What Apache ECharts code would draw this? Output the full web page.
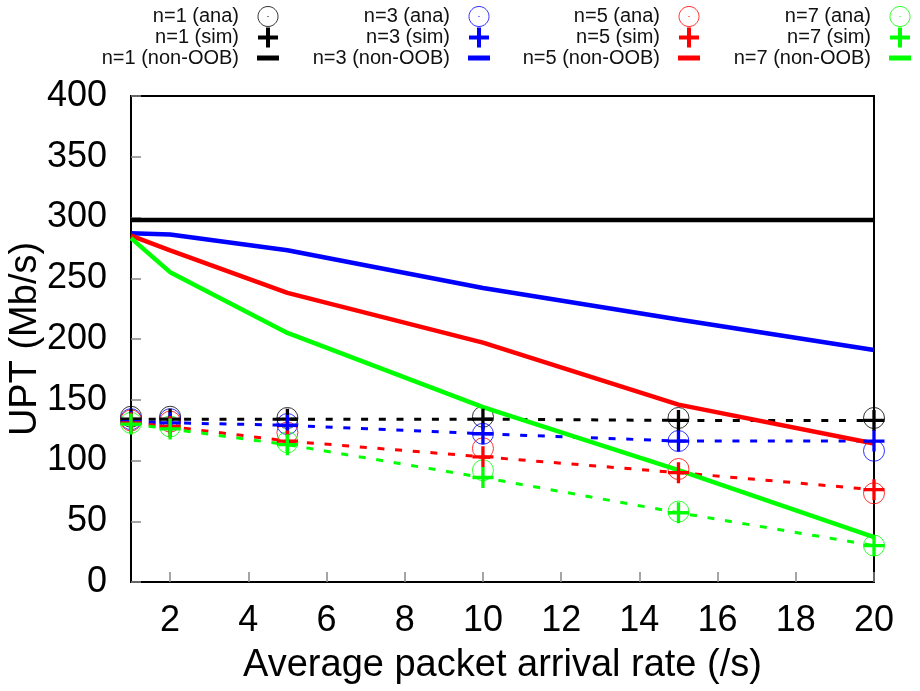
<!DOCTYPE html>
<html>
<head>
<meta charset="utf-8">
<title>UPT vs average packet arrival rate</title>
<script src="https://cdn.jsdelivr.net/npm/echarts@6/dist/echarts.min.js"></script>
<style>
  html, body { margin: 0; padding: 0; background: #fff; }
  #chart { width: 920px; height: 691px; }
</style>
</head>
<body>
<div id="chart"></div>
<script>
// Average packet arrival rate (/s)
const arrivalRates = [1, 2, 5, 10, 15, 20];
const xTickValues = [2, 4, 6, 8, 10, 12, 14, 16, 18, 20];

// UPT (Mb/s): analytical results
const anaN1 = [136, 136, 135, 136, 135, 135];
const anaN3 = [134, 134, 130, 122, 116, 108];
const anaN5 = [133, 132, 123, 110, 93, 73];
const anaN7 = [131, 128, 115, 92, 58, 30];

// UPT (Mb/s): simulation results
const simN1 = [134, 134, 134, 134, 133, 133];
const simN3 = [132, 131, 129, 122, 116, 116];
const simN5 = [131, 128, 116, 103, 90, 76];
const simN7 = [130, 126, 113, 86, 57, 30];

// UPT (Mb/s): without out-of-band signalling
const nonOobN1 = [298, 298, 298, 298, 298, 298];
const nonOobN3 = [287, 286, 273, 242, 216, 191];
const nonOobN5 = [285, 273, 238, 197, 146, 114];
const nonOobN7 = [283, 255, 205, 144, 92, 37];

const groups = [
  { n: 1, color: '#000000', ana: anaN1, sim: simN1, nonOob: nonOobN1 },
  { n: 3, color: '#0000ff', ana: anaN3, sim: simN3, nonOob: nonOobN3 },
  { n: 5, color: '#ff0000', ana: anaN5, sim: simN5, nonOob: nonOobN5 },
  { n: 7, color: '#00ff00', ana: anaN7, sim: simN7, nonOob: nonOobN7 }
];

const FONT = '"Liberation Sans", Arial, Helvetica, sans-serif';

// Plus marker (centered, arm thickness ~3.3 of 21)
const PLUS = 'path://M-1.65,-10.5L1.65,-10.5L1.65,-1.65L10.5,-1.65L10.5,1.65L1.65,1.65L1.65,10.5L-1.65,10.5L-1.65,1.65L-10.5,1.65L-10.5,-1.65L-1.65,-1.65Z';
// Legend icons
const ICON_PLUS = 'path://M8.8,0L13.2,0L13.2,8.8L22,8.8L22,13.2L13.2,13.2L13.2,22L8.8,22L8.8,13.2L0,13.2L0,8.8L8.8,8.8Z';
const ICON_RING = 'path://M22,11C22,17.08 17.08,22 11,22C4.92,22 0,17.08 0,11C0,4.92 4.92,0 11,0C17.08,0 22,4.92 22,11Z' +
  'M11.4,11C11.4,11.22 11.22,11.4 11,11.4C10.78,11.4 10.6,11.22 10.6,11C10.6,10.78 10.78,10.6 11,10.6C11.22,10.6 11.4,10.78 11.4,11Z';
const ICON_BAR = 'path://M0,0L22,0L22,5L0,5Z';

const pairs = arr => arrivalRates.map((x, i) => [x, arr[i]]);

const series = [];
const legends = [];
const legendRight = [641, 430, 220, 9];

groups.forEach((g, gi) => {
  const anaName = 'n=' + g.n + ' (ana)';
  const simName = 'n=' + g.n + ' (sim)';
  const oobName = 'n=' + g.n + ' (non-OOB)';

  series.push({
    name: anaName,
    type: 'scatter',
    data: pairs(g.ana),
    symbol: 'circle',
    symbolSize: 21,
    itemStyle: { color: 'rgba(0,0,0,0)', borderColor: g.color, borderWidth: 1 },
    emphasis: { disabled: true },
    clip: false
  });
  series.push({
    name: simName,
    type: 'line',
    data: pairs(g.sim),
    symbol: PLUS,
    symbolSize: 21,
    showSymbol: true,
    itemStyle: { color: g.color },
    lineStyle: { color: g.color, width: 3, type: [7, 10.7] },
    emphasis: { disabled: true },
    clip: false
  });
  series.push({
    name: oobName,
    type: 'line',
    data: pairs(g.nonOob),
    symbol: 'none',
    itemStyle: { color: g.color },
    lineStyle: { color: g.color, width: 4.5 },
    emphasis: { disabled: true },
    clip: false
  });

  legends.push({
    orient: 'vertical',
    align: 'right',
    right: legendRight[gi],
    top: 6,
    padding: 0,
    itemGap: 0.5,
    itemWidth: 22,
    itemHeight: 20,
    selectedMode: false,
    textStyle: { fontSize: 20, fontFamily: FONT, color: '#111', lineHeight: 20, padding: [0, 13, 0, 0] },
    data: [
      { name: anaName, icon: ICON_RING, itemStyle: { color: 'rgba(0,0,0,0)', borderColor: g.color, borderWidth: 1 } },
      { name: simName, icon: ICON_PLUS, itemStyle: { color: g.color, borderWidth: 0 } },
      { name: oobName, icon: ICON_BAR, itemStyle: { color: g.color, borderWidth: 0 } }
    ]
  });
});

const chart = echarts.init(document.getElementById('chart'), null, { renderer: 'canvas' });
chart.setOption({
  animation: false,
  backgroundColor: '#fff',
  textStyle: { fontFamily: FONT },
  legend: legends,
  grid: {
    left: 131, right: 46, top: 96, bottom: 109,
    containLabel: false,
    outerBoundsMode: 'none',
    show: true, borderColor: '#000', borderWidth: 2, backgroundColor: 'rgba(0,0,0,0)'
  },
  xAxis: {
    type: 'value',
    min: 1,
    max: 20,
    name: 'Average packet arrival rate (/s)',
    nameLocation: 'middle',
    nameGap: 65,
    nameMoveOverlap: false,
    nameTextStyle: { fontSize: 38, fontFamily: FONT, color: '#000' },
    axisLine: { show: true, lineStyle: { color: '#000', width: 2 } },
    axisTick: { show: true, inside: true, length: 10, customValues: xTickValues, lineStyle: { color: '#888', width: 1.5 } },
    axisLabel: { customValues: xTickValues, fontSize: 36, fontFamily: FONT, color: '#000', margin: 21 },
    splitLine: { show: false }
  },
  yAxis: {
    type: 'value',
    min: 0,
    max: 400,
    interval: 50,
    name: 'UPT (Mb/s)',
    nameLocation: 'middle',
    nameGap: 86,
    nameMoveOverlap: false,
    nameRotate: 90,
    nameTextStyle: { fontSize: 38, fontFamily: FONT, color: '#000' },
    axisLine: { show: true, lineStyle: { color: '#000', width: 2 } },
    axisTick: { show: true, inside: true, length: 10, lineStyle: { color: '#888', width: 1.5 } },
    axisLabel: { fontSize: 36, fontFamily: FONT, color: '#000', margin: 24 },
    splitLine: { show: false }
  },
  series: series
});
</script>
</body>
</html>
